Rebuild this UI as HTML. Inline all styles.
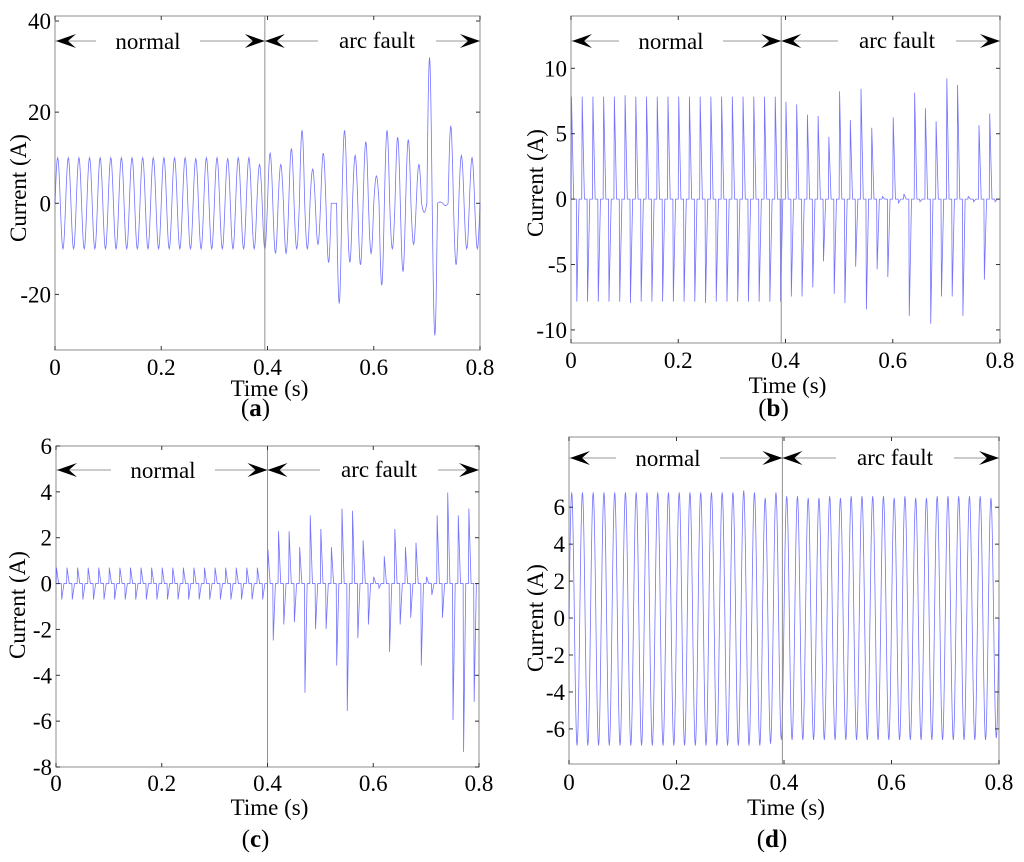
<!DOCTYPE html>
<html><head><meta charset="utf-8">
<style>
html,body{margin:0;padding:0;background:#fff;}
svg{display:block;}
svg text{font-family:"Liberation Serif","Times New Roman",serif;}
</style></head>
<body>
<svg id="fig" width="1024" height="862" viewBox="0 0 1024 862" xmlns="http://www.w3.org/2000/svg"></svg>
<script>
// ---- data: per-cycle peak currents (A), 40 cycles of 0.02 s ----
const cycleTimes = [0,0.02,0.04,0.06,0.08,0.1,0.12,0.14,0.16,0.18,0.2,0.22,0.24,0.26,0.28,0.3,0.32,0.34,0.36,0.38,0.4,0.42,0.44,0.46,0.48,0.5,0.52,0.54,0.56,0.58,0.6,0.62,0.64,0.66,0.68,0.7,0.72,0.74,0.76,0.78];
const aPos = [10,10,10,10,10,10,10,10,10,10,10,10,10,9.8,10,10,9.8,10,10,8.5, 11,8.5,12,16,7.5,11,0,16,10.5,13.5,6,16,14.5,14,8.5,32,0.3,17,10.5,10];
const aNeg = [-10,-10,-10,-10,-10,-10,-10,-10,-10,-10,-10,-10,-10,-10,-10,-10,-10,-10,-10,-10, -11,-11,-10,-10,-9,-13,-22,-13,-13.5,-11,-18,-10,-15,-9,-2,-29,-0.5,-13.5,-10,-10];
const bPos = [7.9,7.9,7.9,7.9,7.9,8,7.9,7.9,7.9,7.9,7.9,7.9,7.9,7.9,7.9,7.9,7.9,7.9,7.9,7.9, 7.5,7.3,6.5,6.4,4.8,8.3,6.1,8.5,5.5,0.2,6.3,0.4,8.2,7,6,9.3,8.8,0.2,5.7,6.6];
const bNeg = [-7.9,-7.9,-7.9,-7.9,-7.9,-8,-7.9,-7.9,-7.9,-7.9,-7.9,-7.9,-8,-7.9,-7.9,-7.9,-7.9,-7.9,-7.9,-7.9, -7.5,-7.5,-6.8,-4.8,-7.3,-8,-5.2,-8.5,-5.4,-6,-0.3,-9,-0.2,-9.6,-7.5,-7.5,-9,-0.2,-6.2,-0.2];
const cPos = [0.7,0.7,0.7,0.7,0.7,0.7,0.7,0.7,0.7,0.7,0.7,0.7,0.7,0.7,0.7,0.7,0.7,0.7,0.7,0.7, 1.5,2.3,2.3,1.6,3,2.4,1.6,3.3,3.2,1.9,0.3,1.2,2.4,1.6,1.8,0.3,3,4,3,3.3];
const cNeg = [-0.7,-0.7,-0.7,-0.7,-0.7,-0.7,-0.7,-0.7,-0.7,-0.7,-0.7,-0.7,-0.7,-0.7,-0.7,-0.7,-0.7,-0.7,-0.7,-0.7, -2.5,-1.8,-1.7,-4.8,-2,-2,-3.6,-5.6,-2.4,-1.8,-0.2,-3,-1.8,-1.5,-3.6,-0.5,-1.5,-6,-7.4,-5.2];
const dPos = [6.8,6.8,6.8,6.8,6.8,6.8,6.8,6.8,6.8,6.8,6.8,6.8,6.8,6.8,6.8,6.8,6.9,6.8,6.5,6.8, 6.6,6.6,6.5,6.5,6.6,6.5,6.6,6.6,6.6,6.6,6.5,6.6,6.5,6.5,6.6,6.6,6.6,6.6,6.6,6.5];
const dNeg = [-6.9,-6.9,-6.9,-6.9,-6.9,-6.9,-6.9,-6.9,-6.9,-6.9,-6.9,-6.9,-6.9,-6.9,-6.9,-6.9,-6.9,-6.9,-6.8,-6.6, -6.6,-6.6,-6.6,-6.6,-6.6,-6.6,-6.6,-6.6,-6.6,-6.6,-6.6,-6.6,-6.6,-6.6,-6.6,-6.6,-6.6,-6.6,-6.6,-6.5];
const xTicks = [0,0.2,0.4,0.6,0.8];
const xTickLabels = ["0","0.2","0.4","0.6","0.8"];
const aYTicks = [40,20,0,-20];
const bYTicks = [10,5,0,-5,-10];
const cYTicks = [6,4,2,0,-2,-4,-6,-8];
const dYTicks = [6,4,2,0,-2,-4,-6];

const NS="http://www.w3.org/2000/svg";
const svg=document.getElementById('fig');
function mk(tag,attrs,parent){const e=document.createElementNS(NS,tag);for(const k in attrs)e.setAttribute(k,attrs[k]);(parent||svg).appendChild(e);return e;}
const FS=23;

const panels=[
 {id:'a',L:55,R:480,T:16,B:350,ymin:-32.2,ymax:41.1,pos:aPos,neg:aNeg,ticks:aYTicks,shape:'sine',div:0.395,arrY:41,ylx:26,yly:188,tickBase:375,timeBase:396,lblBase:416,nx:148,fx:377},
 {id:'b',L:571,R:1000,T:16,B:343,ymin:-11,ymax:14,pos:bPos,neg:bNeg,ticks:bYTicks,shape:'spike',div:0.392,arrY:41,ylx:543,yly:183,tickBase:368,timeBase:393,lblBase:416,nx:671,fx:897},
 {id:'c',L:56,R:479,T:446,B:767,ymin:-8,ymax:6,pos:cPos,neg:cNeg,ticks:cYTicks,shape:'spike',div:0.4,arrY:470,ylx:25,yly:605,tickBase:791,timeBase:815,lblBase:847,nx:163,fx:379},
 {id:'d',L:569,R:999,T:437,B:764,ymin:-7.9,ymax:9.8,pos:dPos,neg:dNeg,ticks:dYTicks,shape:'sine',div:0.397,arrY:458,ylx:543,yly:618,tickBase:790,timeBase:815,lblBase:847,nx:668,fx:895}
];

function arrowHead(g,x,y,dir){
  const w=20*dir,h=7;
  mk('path',{d:`M${x},${y} L${x-w},${y-h} L${x-w*0.6},${y} L${x-w},${y+h} Z`,fill:'#000'},g);
}

panels.forEach(p=>{
  const g=mk('g',{});
  
  
  const sx=t=>p.L+(t/0.8)*(p.R-p.L);
  const sy=v=>p.T+(p.ymax-v)/(p.ymax-p.ymin)*(p.B-p.T);
  const box=mk('rect',{x:p.L,y:p.T,width:p.R-p.L,height:p.B-p.T,fill:'none',stroke:'#a0a0a0','stroke-width':1.2},g);
  
  
  let d='';
  const N=24;
  cycleTimes.forEach((t0,k)=>{
    const P=p.pos[k],Q=p.neg[k];
    for(let i=0;i<=N;i++){
      const f=i/N; let v;
      if(p.shape==='sine'){
        const ang=f*2*Math.PI;
        v=Math.sin(ang); v = v>=0 ? v*P : -v*Q;
      } else {
        const h=f<0.5?f*2:(f-0.5)*2; const A=f<0.5?P:Q;
        if(h<0.08) v=A*(h/0.08); else if(h<0.5) v=A*(1-(h-0.08)/0.42); else v=0;
      }
      const x=sx(t0+f*0.02),y=sy(v);
      d+=(d===''?'M':'L')+x.toFixed(2)+','+y.toFixed(2);
    }
  });
  const line=mk('path',{d:d,fill:'none',stroke:'#5a5aff','stroke-width':0.8,'stroke-opacity':0.85},g);
  
  
  const dv=mk('line',{x1:sx(p.div),x2:sx(p.div),y1:p.T,y2:p.B,stroke:'#909090','stroke-width':1},g);
  
  
  const ag=mk('g',{},g);
  
  
  mk('line',{x1:p.L,x2:p.R,y1:p.arrY,y2:p.arrY,stroke:'#999','stroke-width':1},ag);
  mk('rect',{x:p.nx-52,y:p.arrY-14,width:104,height:28,fill:'#fff'},ag);
  mk('rect',{x:p.fx-59,y:p.arrY-14,width:118,height:28,fill:'#fff'},ag);
  const xd=sx(p.div);
  arrowHead(ag,p.L+1,p.arrY,-1);arrowHead(ag,xd,p.arrY,1);arrowHead(ag,xd,p.arrY,-1);arrowHead(ag,p.R,p.arrY,1);
  const tn=mk('text',{x:p.nx,y:p.arrY+8,'font-size':FS,'text-anchor':'middle'},ag);tn.textContent='normal';
  
  
  const tf=mk('text',{x:p.fx,y:p.arrY+7,'font-size':FS,'text-anchor':'middle'},ag);tf.textContent='arc fault';
  
  
  p.ticks.forEach(v=>{
    const y=sy(v);
    mk('line',{x1:p.L,x2:p.L+4,y1:y,y2:y,stroke:'#333','stroke-width':1},g);
    mk('line',{x1:p.R,x2:p.R-4,y1:y,y2:y,stroke:'#333','stroke-width':1},g);
    const t=mk('text',{x:p.L-4,y:y+8,'font-size':FS,'text-anchor':'end'},g);t.textContent=String(v);
    
    
  });
  xTicks.forEach((v,i)=>{
    const x=sx(v);
    mk('line',{x1:x,x2:x,y1:p.B,y2:p.B-4,stroke:'#333','stroke-width':1},g);
    mk('line',{x1:x,x2:x,y1:p.T,y2:p.T+4,stroke:'#333','stroke-width':1},g);
    const t=mk('text',{x:x,y:p.tickBase,'font-size':FS,'text-anchor':'middle'},g);t.textContent=xTickLabels[i];
    
    
  });
  const xt=mk('text',{x:(p.L+p.R)/2+2,y:p.timeBase,'font-size':FS,'text-anchor':'middle'},g);xt.textContent='Time (s)';
  
  
  const yt=mk('text',{x:0,y:0,'font-size':FS,'text-anchor':'middle',transform:`translate(${p.ylx},${p.yly}) rotate(-90)`},g);yt.textContent='Current (A)';
  
  
  const pl=mk('text',{x:(p.L+p.R)/2-12,y:p.lblBase,'font-size':25,'text-anchor':'middle'},g);
  pl.innerHTML='(<tspan font-weight="bold">'+p.id+'</tspan>)';
  
  
});
</script>
</body></html>
